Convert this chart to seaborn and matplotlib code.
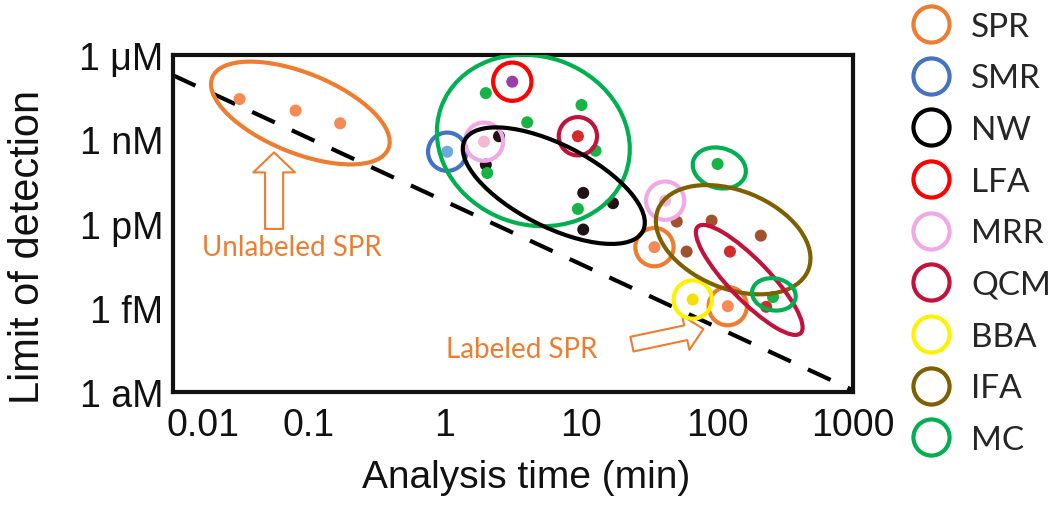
import numpy as np
import pandas as pd
import matplotlib
matplotlib.use("Agg")
import matplotlib.pyplot as plt
import seaborn as sns
from matplotlib.patches import Ellipse
from matplotlib.transforms import ScaledTranslation
from matplotlib.lines import Line2D

# ---------------- data ----------------
techniques = ["SPR", "SMR", "NW", "LFA", "MRR", "QCM", "BBA", "IFA", "MC"]

spr_time = [0.031, 0.080, 0.17, 34.7, 120]
spr_lod = [2.7e-8, 1.05e-8, 3.7e-9, 1.44e-13, 1.14e-15]
spr_ring = [False, False, False, True, True]

smr_time = [1.04]
smr_lod = [3.6e-10]
smr_ring = [True]

nw_time = [2.5, 2.0, 10.4, 17.2, 10.4]
nw_lod = [1.28e-9, 1.25e-10, 1.23e-11, 5.3e-12, 6.1e-13]
nw_ring = [False, False, False, False, False]

lfa_time = [3.13]
lfa_lod = [1.12e-7]
lfa_ring = [True]

mrr_time = [1.94, 41.6]
mrr_lod = [8.2e-10, 6.5e-12]
mrr_ring = [True, True]

qcm_time = [9.5, 124.5, 230]
qcm_lod = [1.28e-9, 1.0e-13, 1.08e-15]
qcm_ring = [True, False, False]

bba_time = [66.3]
bba_lod = [1.96e-15]
bba_ring = [True]

ifa_time = [50.6, 91.3, 210, 59.8]
ifa_lod = [1.17e-12, 1.27e-12, 3.7e-13, 1.0e-13]
ifa_ring = [False, False, False, False]

mc_time = [2.0, 10.1, 4.03, 12.8, 2.05, 9.5, 101, 258]
mc_lod = [4.4e-8, 1.66e-8, 4.0e-9, 3.9e-10, 6.3e-11, 3.3e-12, 1.32e-10, 2.4e-15]
mc_ring = [False] * 8

# group outlines (technique, centre in data units)
group_tech = ["SPR", "MC", "NW", "MC", "IFA", "QCM", "MC"]
group_time = [0.0867, 4.47, 6.32, 104, 131.5, 172.6, 262]
group_lod = [8.6e-9, 9.06e-10, 2.23e-11, 9.5e-11, 2.65e-13, 9.8e-15, 3.0e-15]

# trend line
trend_time = [0.01, 1000]
trend_lod = [1.92e-7, 1.15e-18]

x_ticks = [0.01, 0.1, 1, 10, 100, 1000]
x_ticklabels = ["0.01", "0.1", "1", "10", "100", "1000"]
y_ticks = [1e-6, 1e-9, 1e-12, 1e-15, 1e-18]
y_ticklabels = ["1 \u03bcM", "1 nM", "1 pM", "1 fM", "1 aM"]

# ---------------- styles ----------------
ring_colors = {"SPR": "#ED7D31", "SMR": "#4472C4", "NW": "#000000", "LFA": "#FF0000",
               "MRR": "#F0A8E6", "QCM": "#C0143C", "BBA": "#FFF200", "IFA": "#7F6000",
               "MC": "#00B050"}
point_colors = {"SPR": "#F68A55", "SMR": "#6FA8DC", "NW": "#1E1418", "LFA": "#9B3FA8",
                "MRR": "#F7B8D6", "QCM": "#D22B2B", "BBA": "#F2E000", "IFA": "#A0522D",
                "MC": "#17B345"}
# outline shapes in pixels: (width, height, angle)
group_shape = [(190, 80, -22), (196, 168, -20), (200, 82, -27), (54, 40, -15),
               (162, 98, -22), (148, 40, -46), (44, 32, -10)]

sets = {"SPR": (spr_time, spr_lod, spr_ring), "SMR": (smr_time, smr_lod, smr_ring),
        "NW": (nw_time, nw_lod, nw_ring), "LFA": (lfa_time, lfa_lod, lfa_ring),
        "MRR": (mrr_time, mrr_lod, mrr_ring), "QCM": (qcm_time, qcm_lod, qcm_ring),
        "BBA": (bba_time, bba_lod, bba_ring), "IFA": (ifa_time, ifa_lod, ifa_ring),
        "MC": (mc_time, mc_lod, mc_ring)}
rows = []
for t in techniques:
    tt, ll, rr = sets[t]
    for a, b, c in zip(tt, ll, rr):
        rows.append({"technique": t, "time": a, "lod": b, "ring": c})
df = pd.DataFrame(rows)

sns.set_style("white")
plt.rcParams["font.family"] = ["Liberation Sans", "DejaVu Sans"]

DPI = 100
fig = plt.figure(figsize=(10.61, 5.06), dpi=DPI)
ax = fig.add_axes([0.1628, 0.2233, 0.6412, 0.6660])
ax.set_xscale("log")
ax.set_yscale("log")
ax.set_xlim(0.01, 1000)
ax.set_ylim(1e-18, 1e-6)

# trend line
sns.lineplot(x=trend_time, y=trend_lod, ax=ax, color="black", lw=3.0,
             dashes=False, zorder=1)
ax.lines[-1].set_dashes((6, 4.5))

# points
sns.scatterplot(data=df, x="time", y="lod", hue="technique", palette=point_colors,
                s=75, edgecolor="none", legend=False, ax=ax, zorder=3)

# rings
rd = df[df["ring"]]
ax.scatter(rd["time"], rd["lod"], s=760, facecolors="none",
           edgecolors=[ring_colors[t] for t in rd["technique"]], linewidths=3.0, zorder=4)

# group outlines
for t, gx, gy, (w, h, ang) in zip(group_tech, group_time, group_lod, group_shape):
    tr = fig.dpi_scale_trans + ScaledTranslation(gx, gy, ax.transData)
    e = Ellipse((0, 0), w / DPI, h / DPI, angle=ang, transform=tr, fill=False,
                edgecolor=ring_colors[t], lw=3.0, zorder=4)
    ax.add_patch(e)

# hollow arrows + notes
orange = "#ED7D31"
ax.annotate("", xy=(0.149, 0.711), xytext=(0.149, 0.484), xycoords="axes fraction",
            arrowprops=dict(arrowstyle="simple,head_length=0.72,head_width=1.5,tail_width=0.65",
                            fc="white", ec=orange, lw=1.5, mutation_scale=20,
                            shrinkA=0, shrinkB=0))
ax.annotate("", xy=(0.780, 0.187), xytext=(0.675, 0.142), xycoords="axes fraction",
            arrowprops=dict(arrowstyle="simple,head_length=0.65,head_width=1.26,tail_width=0.54",
                            fc="white", ec=orange, lw=1.5, mutation_scale=20,
                            shrinkA=0, shrinkB=0))
ax.text(0.175, 0.429, "Unlabeled SPR", transform=ax.transAxes, ha="center", va="center",
        color=orange, fontsize=20, family="Lato")
ax.text(0.513, 0.128, "Labeled SPR", transform=ax.transAxes, ha="center", va="center",
        color=orange, fontsize=20, family="Lato")

# axes styling
ax.set_xticks(x_ticks)
ax.set_xticklabels(x_ticklabels)
ax.set_yticks(y_ticks)
ax.set_yticklabels(y_ticklabels)
ax.minorticks_off()
ax.tick_params(axis="both", direction="in", length=6, width=2.5, labelsize=27,
               colors="#111111", top=False, right=False)
ax.tick_params(axis="x", pad=11)
ax.tick_params(axis="y", pad=7)
for sp in ax.spines.values():
    sp.set_linewidth(3)
    sp.set_color("#111111")
ax.set_xlabel("Analysis time (min)", fontsize=28, color="#111111")
ax.set_ylabel("Limit of detection", fontsize=30, color="#111111")
ax.xaxis.set_label_coords(0.519, -0.199)
ax.yaxis.set_label_coords(-0.183, 0.433)

# first x tick label sits to the right of its tick, as in the reference
first = ax.get_xticklabels()[0]
first.set_transform(first.get_transform() + ScaledTranslation(0.30, 0, fig.dpi_scale_trans))

# legend
handles = [Line2D([], [], marker="o", ls="", mfc="none", mec=ring_colors[t],
                  ms=26, mew=3) for t in techniques]
fig.legend(handles, techniques, loc="upper left", bbox_to_anchor=(0.8446, 1.008),
           frameon=False, borderpad=0, handlelength=1.1, handletextpad=0.65,
           labelspacing=0.65, prop={"family": "Lato", "size": 24})

fig.savefig("out.png", dpi=DPI)
